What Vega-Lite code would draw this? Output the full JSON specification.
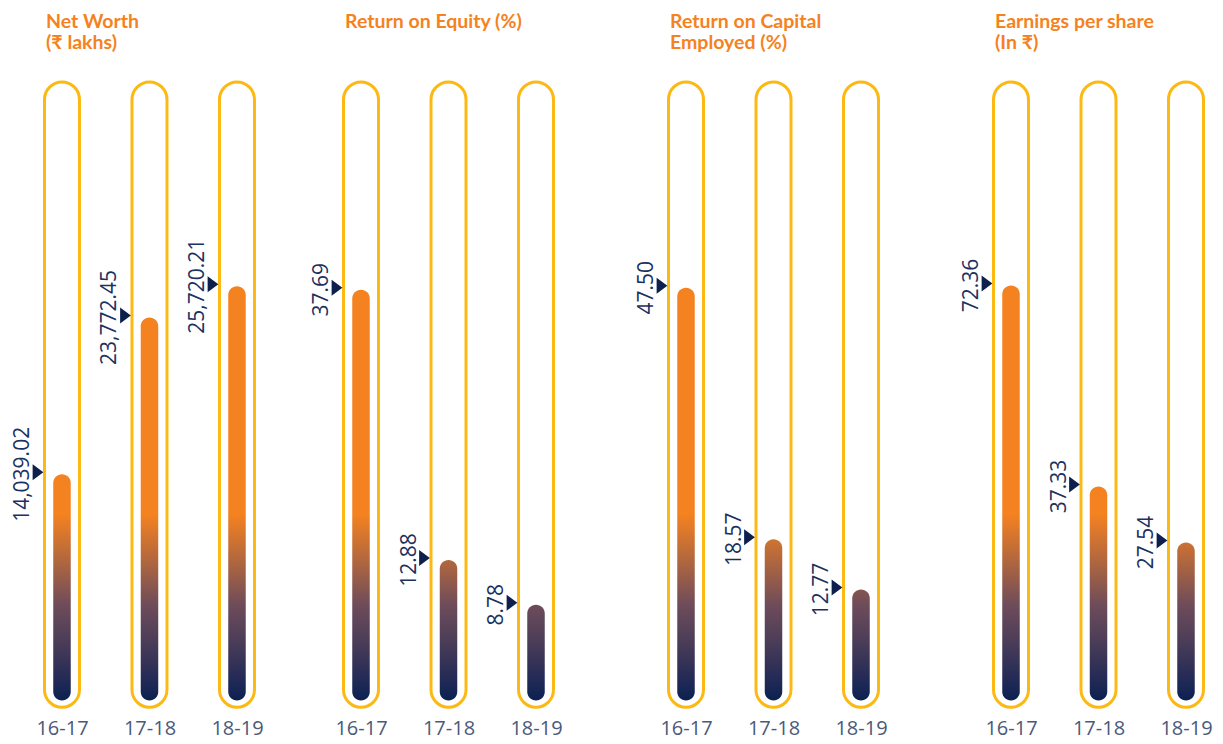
{
  "$schema": "https://vega.github.io/schema/vega-lite/v6.json",
  "background": "white",
  "padding": {"left": 0, "top": 11, "right": 0, "bottom": 4},
  "bounds": "flush",
  "spacing": 78,
  "datasets": {
    "d": [
      {"metric": "nw", "year": "16-17", "value": 14039.02},
      {"metric": "nw", "year": "17-18", "value": 23772.45},
      {"metric": "nw", "year": "18-19", "value": 25720.21},
      {"metric": "roe", "year": "16-17", "value": 37.69},
      {"metric": "roe", "year": "17-18", "value": 12.88},
      {"metric": "roe", "year": "18-19", "value": 8.78},
      {"metric": "roce", "year": "16-17", "value": 47.50},
      {"metric": "roce", "year": "17-18", "value": 18.57},
      {"metric": "roce", "year": "18-19", "value": 12.77},
      {"metric": "eps", "year": "16-17", "value": 72.36},
      {"metric": "eps", "year": "17-18", "value": 37.33},
      {"metric": "eps", "year": "18-19", "value": 27.54}
    ]
  },
  "config": {
    "view": {"stroke": null, "fill": "white"},
    "title": {"anchor": "start", "frame": "group", "font": "Lato", "fontSize": 19.5, "fontWeight": 700, "color": "#F58220", "lineHeight": 21, "offset": 27.5, "baseline": "top"},
    "axisX": {"title": null, "domain": false, "ticks": false, "tickSize": 0, "grid": false, "labelAngle": 0, "labelFont": "Open Sans", "labelFontWeight": 400, "labelFontSize": 20, "labelColor": "#4B5A7A", "labelPadding": 18}
  },
  "resolve": {"scale": {"x": "independent", "y": "independent"}},
  "hconcat": [
    {
      "data": {"name": "d"},
      "transform": [{"filter": "datum.metric === 'nw'"}],
      "width": 247, "height": 618.5,
      "title": {"text": ["Net Worth", "(₹ lakhs)"], "dx": 46},
      "encoding": {"x": {"field": "year", "type": "ordinal", "sort": null, "scale": {"type": "point", "padding": 0.41143, "align": 0.861}}},
      "layer": [
        {"mark": {"type": "bar", "width": 35, "cornerRadius": 17.5, "fill": "white", "stroke": "#FDB913", "strokeWidth": 3, "y2Offset": 6.8},
         "encoding": {"y": {"datum": 38397, "type": "quantitative", "scale": {"domain": [0, 38397], "nice": false, "zero": false}, "axis": null}, "y2": {"datum": 0}}},
        {"mark": {"type": "bar", "width": 17.5, "cornerRadius": 8.75},
         "encoding": {"y": {"field": "value", "type": "quantitative"}, "y2": {"datum": 0},
           "fill": {"condition": [
             {"test": "datum.year === '16-17'", "value": {"gradient": "linear", "x1": 0, "x2": 0, "y1": 0.1731, "y2": 1, "stops": [{"offset": 0, "color": "#F58220"}, {"offset": 0.25, "color": "#B2673E"}, {"offset": 0.49, "color": "#6E4C5A"}, {"offset": 0.68, "color": "#4C3D58"}, {"offset": 0.89, "color": "#222A56"}, {"offset": 1, "color": "#0B2151"}]}},
             {"test": "datum.year === '17-18'", "value": {"gradient": "linear", "x1": 0, "x2": 0, "y1": 0.5116, "y2": 1, "stops": [{"offset": 0, "color": "#F58220"}, {"offset": 0.25, "color": "#B2673E"}, {"offset": 0.49, "color": "#6E4C5A"}, {"offset": 0.68, "color": "#4C3D58"}, {"offset": 0.89, "color": "#222A56"}, {"offset": 1, "color": "#0B2151"}]}}],
             "value": {"gradient": "linear", "x1": 0, "x2": 0, "y1": 0.5486, "y2": 1, "stops": [{"offset": 0, "color": "#F58220"}, {"offset": 0.25, "color": "#B2673E"}, {"offset": 0.49, "color": "#6E4C5A"}, {"offset": 0.68, "color": "#4C3D58"}, {"offset": 0.89, "color": "#222A56"}, {"offset": 1, "color": "#0B2151"}]}}}},
        {"mark": {"type": "point", "shape": "M-0.67,-1L0.67,0L-0.67,1Z", "size": 256, "filled": true, "color": "#0D1F4D", "opacity": 1, "xOffset": -24, "yOffset": -2},
         "encoding": {"y": {"field": "value", "type": "quantitative"}}},
        {"mark": {"type": "text", "angle": 270, "align": "center", "baseline": "alphabetic", "xOffset": -33, "font": "Open Sans", "fontWeight": 400, "fontSize": 21, "color": "#1B3160"},
         "encoding": {"y": {"field": "value", "type": "quantitative"}, "text": {"field": "value", "type": "quantitative", "format": ",.2f"}}}
      ]
    },
    {
      "data": {"name": "d"},
      "transform": [{"filter": "datum.metric === 'roe'"}],
      "width": 247, "height": 618.5,
      "title": {"text": ["Return on Equity (%)", " "], "dx": 20},
      "encoding": {"x": {"field": "year", "type": "ordinal", "sort": null, "scale": {"type": "point", "padding": 0.41143, "align": 0.5}}},
      "layer": [
        {"mark": {"type": "bar", "width": 35, "cornerRadius": 17.5, "fill": "white", "stroke": "#FDB913", "strokeWidth": 3, "y2Offset": 6.8},
         "encoding": {"y": {"datum": 56.74, "type": "quantitative", "scale": {"domain": [0, 56.74], "nice": false, "zero": false}, "axis": null}, "y2": {"datum": 0}}},
        {"mark": {"type": "bar", "width": 17.5, "cornerRadius": 8.75},
         "encoding": {"y": {"field": "value", "type": "quantitative"}, "y2": {"datum": 0},
           "fill": {"condition": [
             {"test": "datum.year === '16-17'", "value": {"gradient": "linear", "x1": 0, "x2": 0, "y1": 0.5448, "y2": 1, "stops": [{"offset": 0, "color": "#F58220"}, {"offset": 0.25, "color": "#B2673E"}, {"offset": 0.49, "color": "#6E4C5A"}, {"offset": 0.68, "color": "#4C3D58"}, {"offset": 0.89, "color": "#222A56"}, {"offset": 1, "color": "#0B2151"}]}},
             {"test": "datum.year === '17-18'", "value": {"gradient": "linear", "x1": 0, "x2": 0, "y1": -0.3319, "y2": 1, "stops": [{"offset": 0, "color": "#F58220"}, {"offset": 0.25, "color": "#B2673E"}, {"offset": 0.49, "color": "#6E4C5A"}, {"offset": 0.68, "color": "#4C3D58"}, {"offset": 0.89, "color": "#222A56"}, {"offset": 1, "color": "#0B2151"}]}}],
             "value": {"gradient": "linear", "x1": 0, "x2": 0, "y1": -0.954, "y2": 1, "stops": [{"offset": 0, "color": "#F58220"}, {"offset": 0.25, "color": "#B2673E"}, {"offset": 0.49, "color": "#6E4C5A"}, {"offset": 0.68, "color": "#4C3D58"}, {"offset": 0.89, "color": "#222A56"}, {"offset": 1, "color": "#0B2151"}]}}}},
        {"mark": {"type": "point", "shape": "M-0.67,-1L0.67,0L-0.67,1Z", "size": 256, "filled": true, "color": "#0D1F4D", "opacity": 1, "xOffset": -24, "yOffset": -2},
         "encoding": {"y": {"field": "value", "type": "quantitative"}}},
        {"mark": {"type": "text", "angle": 270, "align": "center", "baseline": "alphabetic", "xOffset": -33, "font": "Open Sans", "fontWeight": 400, "fontSize": 21, "color": "#1B3160"},
         "encoding": {"y": {"field": "value", "type": "quantitative"}, "text": {"field": "value", "type": "quantitative", "format": ",.2f"}}}
      ]
    },
    {
      "data": {"name": "d"},
      "transform": [{"filter": "datum.metric === 'roce'"}],
      "width": 247, "height": 618.5,
      "title": {"text": ["Return on Capital", "Employed (%)"], "dx": 20},
      "encoding": {"x": {"field": "year", "type": "ordinal", "sort": null, "scale": {"type": "point", "padding": 0.41143, "align": 0.5}}},
      "layer": [
        {"mark": {"type": "bar", "width": 35, "cornerRadius": 17.5, "fill": "white", "stroke": "#FDB913", "strokeWidth": 3, "y2Offset": 6.8},
         "encoding": {"y": {"datum": 71.19, "type": "quantitative", "scale": {"domain": [0, 71.19], "nice": false, "zero": false}, "axis": null}, "y2": {"datum": 0}}},
        {"mark": {"type": "bar", "width": 17.5, "cornerRadius": 8.75},
         "encoding": {"y": {"field": "value", "type": "quantitative"}, "y2": {"datum": 0},
           "fill": {"condition": [
             {"test": "datum.year === '16-17'", "value": {"gradient": "linear", "x1": 0, "x2": 0, "y1": 0.5469, "y2": 1, "stops": [{"offset": 0, "color": "#F58220"}, {"offset": 0.25, "color": "#B2673E"}, {"offset": 0.49, "color": "#6E4C5A"}, {"offset": 0.68, "color": "#4C3D58"}, {"offset": 0.89, "color": "#222A56"}, {"offset": 1, "color": "#0B2151"}]}},
             {"test": "datum.year === '17-18'", "value": {"gradient": "linear", "x1": 0, "x2": 0, "y1": -0.1593, "y2": 1, "stops": [{"offset": 0, "color": "#F58220"}, {"offset": 0.25, "color": "#B2673E"}, {"offset": 0.49, "color": "#6E4C5A"}, {"offset": 0.68, "color": "#4C3D58"}, {"offset": 0.89, "color": "#222A56"}, {"offset": 1, "color": "#0B2151"}]}}],
             "value": {"gradient": "linear", "x1": 0, "x2": 0, "y1": -0.6862, "y2": 1, "stops": [{"offset": 0, "color": "#F58220"}, {"offset": 0.25, "color": "#B2673E"}, {"offset": 0.49, "color": "#6E4C5A"}, {"offset": 0.68, "color": "#4C3D58"}, {"offset": 0.89, "color": "#222A56"}, {"offset": 1, "color": "#0B2151"}]}}}},
        {"mark": {"type": "point", "shape": "M-0.67,-1L0.67,0L-0.67,1Z", "size": 256, "filled": true, "color": "#0D1F4D", "opacity": 1, "xOffset": -24, "yOffset": -2},
         "encoding": {"y": {"field": "value", "type": "quantitative"}}},
        {"mark": {"type": "text", "angle": 270, "align": "center", "baseline": "alphabetic", "xOffset": -33, "font": "Open Sans", "fontWeight": 400, "fontSize": 21, "color": "#1B3160"},
         "encoding": {"y": {"field": "value", "type": "quantitative"}, "text": {"field": "value", "type": "quantitative", "format": ",.2f"}}}
      ]
    },
    {
      "data": {"name": "d"},
      "transform": [{"filter": "datum.metric === 'eps'"}],
      "width": 247, "height": 618.5,
      "title": {"text": ["Earnings per share", "(In ₹)"], "dx": 20},
      "encoding": {"x": {"field": "year", "type": "ordinal", "sort": null, "scale": {"type": "point", "padding": 0.41143, "align": 0.5}}},
      "layer": [
        {"mark": {"type": "bar", "width": 35, "cornerRadius": 17.5, "fill": "white", "stroke": "#FDB913", "strokeWidth": 3, "y2Offset": 6.8},
         "encoding": {"y": {"datum": 107.84, "type": "quantitative", "scale": {"domain": [0, 107.84], "nice": false, "zero": false}, "axis": null}, "y2": {"datum": 0}}},
        {"mark": {"type": "bar", "width": 17.5, "cornerRadius": 8.75},
         "encoding": {"y": {"field": "value", "type": "quantitative"}, "y2": {"datum": 0},
           "fill": {"condition": [
             {"test": "datum.year === '16-17'", "value": {"gradient": "linear", "x1": 0, "x2": 0, "y1": 0.5494, "y2": 1, "stops": [{"offset": 0, "color": "#F58220"}, {"offset": 0.25, "color": "#B2673E"}, {"offset": 0.49, "color": "#6E4C5A"}, {"offset": 0.68, "color": "#4C3D58"}, {"offset": 0.89, "color": "#222A56"}, {"offset": 1, "color": "#0B2151"}]}},
             {"test": "datum.year === '17-18'", "value": {"gradient": "linear", "x1": 0, "x2": 0, "y1": 0.1266, "y2": 1, "stops": [{"offset": 0, "color": "#F58220"}, {"offset": 0.25, "color": "#B2673E"}, {"offset": 0.49, "color": "#6E4C5A"}, {"offset": 0.68, "color": "#4C3D58"}, {"offset": 0.89, "color": "#222A56"}, {"offset": 1, "color": "#0B2151"}]}}],
             "value": {"gradient": "linear", "x1": 0, "x2": 0, "y1": -0.1839, "y2": 1, "stops": [{"offset": 0, "color": "#F58220"}, {"offset": 0.25, "color": "#B2673E"}, {"offset": 0.49, "color": "#6E4C5A"}, {"offset": 0.68, "color": "#4C3D58"}, {"offset": 0.89, "color": "#222A56"}, {"offset": 1, "color": "#0B2151"}]}}}},
        {"mark": {"type": "point", "shape": "M-0.67,-1L0.67,0L-0.67,1Z", "size": 256, "filled": true, "color": "#0D1F4D", "opacity": 1, "xOffset": -24, "yOffset": -2},
         "encoding": {"y": {"field": "value", "type": "quantitative"}}},
        {"mark": {"type": "text", "angle": 270, "align": "center", "baseline": "alphabetic", "xOffset": -33, "font": "Open Sans", "fontWeight": 400, "fontSize": 21, "color": "#1B3160"},
         "encoding": {"y": {"field": "value", "type": "quantitative"}, "text": {"field": "value", "type": "quantitative", "format": ",.2f"}}}
      ]
    }
  ]
}
